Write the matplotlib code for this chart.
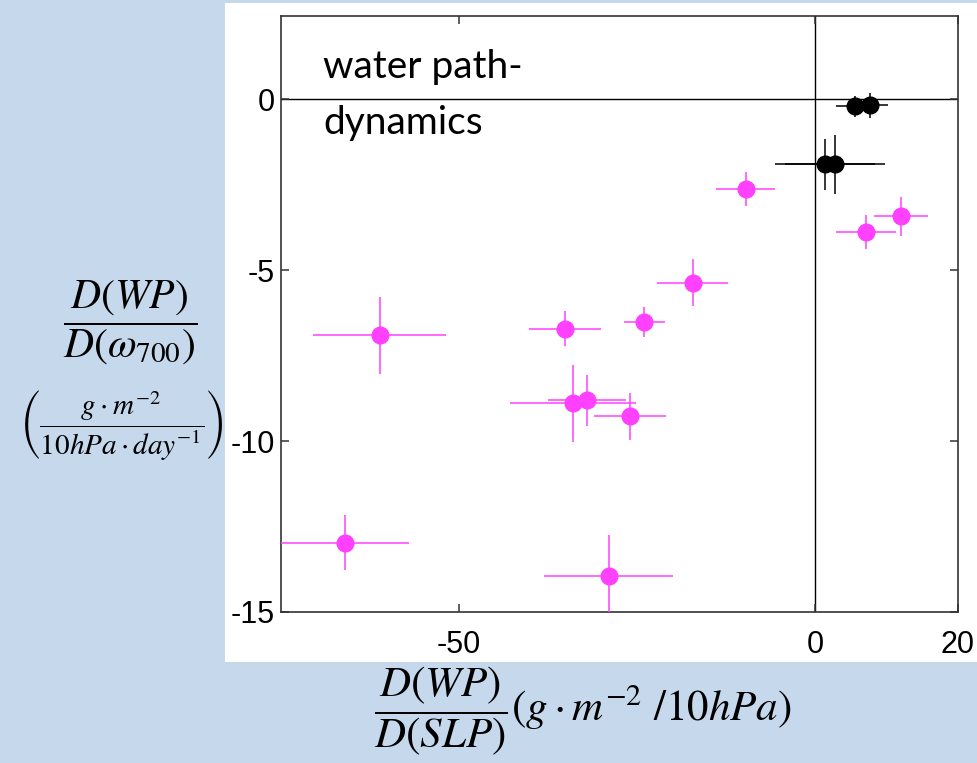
import matplotlib
matplotlib.use('Agg')
from matplotlib import pyplot as plt
from matplotlib.patches import Rectangle

plt.rcParams['mathtext.fontset'] = 'stix'
plt.rcParams['axes.unicode_minus'] = False

# magenta cases: D(WP)/D(SLP), D(WP)/D(omega700) and their error bars
mag_x = [-9.8, 12.0, 7.1, -17.2, -61.1, -35.1, -24.0, -34.0, -32.0, -26.0, -66.0, -29.0]
mag_y = [-2.63, -3.42, -3.89, -5.36, -6.90, -6.71, -6.51, -8.89, -8.81, -9.28, -12.97, -13.95]
mag_xerr = [4.1, 3.8, 4.2, 5.0, 9.3, 5.0, 2.9, 8.8, 5.5, 5.1, 9.0, 9.1]
mag_yerr = [0.49, 0.57, 0.50, 0.70, 1.13, 0.52, 0.44, 1.13, 0.75, 0.69, 0.81, 1.20]

# black cases
blk_x = [5.5, 7.6, 1.3, 2.8]
blk_y = [-0.20, -0.17, -1.90, -1.90]
blk_xerr = [2.6, 2.6, 7.0, 7.0]
blk_yerr = [0.31, 0.37, 0.74, 0.87]

xticks = [-50, 0, 20]
yticks = [0, -5, -10, -15]

fig = plt.figure(figsize=(9.78, 7.63), dpi=100, facecolor='#c5d8ec')
fig.patches.append(Rectangle((225 / 978, 101 / 763), 753 / 978, 659 / 763,
                             transform=fig.transFigure, facecolor='white',
                             edgecolor='none', zorder=-10))

ax = fig.add_axes([0.287, 0.198, 0.6925, 0.7815])
ax.axhline(0, color='black', lw=1.0, zorder=1)
ax.axvline(0, color='black', lw=1.0, zorder=1)

ax.errorbar(mag_x, mag_y, xerr=mag_xerr, yerr=mag_yerr, fmt='o', color='#ff40ff',
            ms=12, elinewidth=1.1, capsize=0, zorder=3)
ax.errorbar(blk_x, blk_y, xerr=blk_xerr, yerr=blk_yerr, fmt='o', color='black',
            ms=12, elinewidth=1.1, capsize=0, zorder=4)

ax.set_xlim(-75, 20)
ax.set_ylim(-15, 2.45)
ax.set_xticks(xticks)
ax.set_yticks(yticks)
ax.tick_params(direction='in', length=6, width=1.1, top=True, right=True,
               labelsize=22, color='#333333')
ax.tick_params(axis='x', pad=13)
ax.tick_params(axis='y', pad=4)
for lab in ax.get_xticklabels() + ax.get_yticklabels():
    lab.set_family('Liberation Sans')
for s in ax.spines.values():
    s.set_linewidth(1.2)
    s.set_color('#333333')

ax.text(0.0625, 0.895, 'water path-', transform=ax.transAxes, fontsize=28,
        family='Lato', va='baseline', ha='left')
ax.text(0.0625, 0.8016, 'dynamics', transform=ax.transAxes, fontsize=28,
        family='Lato', va='baseline', ha='left')

# axis labels
fig.text(130 / 978, 1 - 322 / 763, r'$\dfrac{D(WP)}{D(\omega_{700})}$',
         fontsize=30, ha='center', va='center')
fig.text(121 / 978, 1 - 425 / 763,
         r'$\left(\dfrac{g\cdot m^{-2}}{10hPa\cdot day^{-1}}\right)$',
         fontsize=21, ha='center', va='center')
fig.text(583 / 978, 1 - 711 / 763, r'$\dfrac{D(WP)}{D(SLP)}(g\cdot m^{-2}\ /10hPa)$',
         fontsize=31, ha='center', va='center')

fig.savefig('out.png', dpi=100, facecolor=fig.get_facecolor())
